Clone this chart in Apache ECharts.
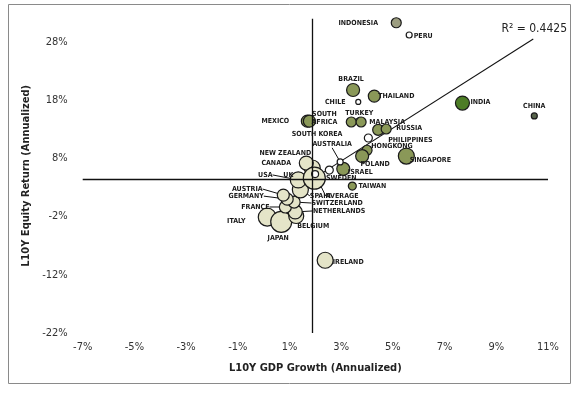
<!DOCTYPE html>
<html>
<head>
<meta charset="utf-8">
<script src="https://cdn.jsdelivr.net/npm/echarts@6/dist/echarts.min.js"></script>
<style>html,body{margin:0;padding:0;background:#fff}#c{width:580px;height:395px}</style>
</head>
<body>
<div id="c"></div>
<script>
// ---- data ----
const countries = ["INDONESIA","PERU","BRAZIL","THAILAND","CHILE","INDIA","CHINA","MEXICO","SOUTH AFRICA","TURKEY","SOUTH KOREA","MALAYSIA","RUSSIA","PHILIPPINES","HONGKONG","POLAND","SINGAPORE","ISRAEL","AUSTRALIA","SWEDEN","TAIWAN","IRELAND","ITALY","JAPAN","BELGIUM","NETHERLANDS","FRANCE","SWITZERLAND","GERMANY","AUSTRIA","SPAIN","USA","CANADA","NEW ZEALAND","UK","AVERAGE"];
const gdpGrowth   = [5.13,5.63,3.46,4.28,3.66,7.69,10.47,1.69,1.77,3.39,3.77,4.43,4.74,4.05,4.00,3.81,5.52,3.08,2.96,2.54,3.43,2.38,0.14,0.68,1.26,1.22,0.84,1.18,0.91,0.76,1.42,1.34,1.88,1.65,1.96,1.99];
const equityReturn= [31.3,29.2,19.75,18.7,17.7,17.5,15.3,14.4,14.4,14.25,14.25,12.9,13.05,11.5,9.4,8.4,8.4,6.2,7.4,6.0,3.25,-9.5,-2.1,-2.9,-1.9,-1.2,-0.35,0.5,1.0,1.7,2.6,4.3,6.35,7.2,4.6,5.3];
const marketSize  = [10,6,13,12,5,14,6,12,12,10,10,11,10,8,10,13,16,13,6,8,8,16,18,21,15,14,12,12,12,12,16,16,16,14,22,7];
const groups      = ["grey","white","em","em","white","dark","china","em","em","em","em","em","em","white","em","em","em","em","white","white","em","dev","dev","dev","dev","dev","dev","dev","dev","dev","dev","dev","dev","dev","dev","white"];
const avgGdp = 1.88, avgReturn = 4.4;
const trendGdp = [1.88, 10.43];
const trendReturn = [4.4, 28.5];
const rSquared = "0.4425";
const xTicks = [-7,-5,-3,-1,1,3,5,7,9,11];
const yTicks = [-22,-12,-2,8,18,28];
const yTop = 32;

// ---- styles / layout ----
const groupColor = {dev:"#e4e4c8", em:"#8a9858", dark:"#4d7d26", china:"#56634a", grey:"#9c9d80", white:"#ffffff"};
const labelOffset = {
  "INDONESIA":[-38,0],"PERU":[14,1],"BRAZIL":[-2,-11],"THAILAND":[22,0],"CHILE":[-23,0],"INDIA":[18,-1],"CHINA":[0,-10],
  "MEXICO":[-32,0],"SOUTH AFRICA":[15,-3],"TURKEY":[8,-9],"SOUTH KOREA":[-44,12],"MALAYSIA":[9,-8],"RUSSIA":[23,-1],
  "PHILIPPINES":[42,2],"HONGKONG":[25,-4],"POLAND":[13,8],"SINGAPORE":[24,4],"ISRAEL":[17,3],"AUSTRALIA":[-8,-18],
  "SWEDEN":[12,8],"TAIWAN":[20,0],"IRELAND":[23,2],"ITALY":[-31,4],"JAPAN":[-3,16],"BELGIUM":[17,10],"NETHERLANDS":[44,-1],
  "FRANCE":[-30,0],"SWITZERLAND":[43,1],"GERMANY":[-41,-3],"AUSTRIA":[-36,-6],"SPAIN":[20,6],"USA":[-33,-5],
  "CANADA":[-36,-5],"NEW ZEALAND":[-21,-10],"UK":[-26,-3],"AVERAGE":[27,22]
};
const withLeader = {"TURKEY":1,"HONGKONG":1,"AUSTRALIA":1,"UK":1,"SPAIN":1,"AUSTRIA":1,"GERMANY":1,"SWITZERLAND":1,"FRANCE":1,"NETHERLANDS":1,"AVERAGE":1,"USA":1};
const FONT = "'DejaVu Sans Condensed','Liberation Sans Narrow',sans-serif";

const scatterData = countries.map((n,i)=>({
  name:n,
  value:[gdpGrowth[i], equityReturn[i], marketSize[i]],
  itemStyle:{color:groupColor[groups[i]]},
  labelLine:{show: !!withLeader[n], lineStyle:{color:'#111', width:1}}
}));

const chart = echarts.init(document.getElementById('c'), null, {renderer:'canvas'});
chart.setOption({
  animation:false,
  backgroundColor:'#fff',
  textStyle:{fontFamily:FONT},
  grid:{left:82.7, right:32, top:18.7, bottom:62, containLabel:false},
  xAxis:{
    type:'value', min:xTicks[0], max:xTicks[xTicks.length-1], interval:xTicks[1]-xTicks[0],
    axisLine:{show:false}, axisTick:{show:false}, splitLine:{show:false},
    axisLabel:{formatter:'{value}%', fontSize:11, color:'#333', margin:9, fontFamily:FONT},
    name:'L10Y GDP Growth (Annualized)', nameLocation:'middle', nameGap:30,
    nameTextStyle:{fontSize:11, fontWeight:'bold', color:'#222', fontFamily:FONT}
  },
  yAxis:{
    type:'value', min:yTicks[0], max:yTop, interval:yTicks[1]-yTicks[0],
    axisLine:{show:false}, axisTick:{show:false}, splitLine:{show:false},
    axisLabel:{formatter:v=> (yTicks.indexOf(v)>=0 ? v+'%' : ''), fontSize:11, color:'#333', margin:15, fontFamily:FONT},
    name:'L10Y Equity Return (Annualized)', nameLocation:'middle', nameGap:46,
    nameTextStyle:{fontSize:11, fontWeight:'bold', color:'#222', fontFamily:FONT}
  },
  graphic:[
    {type:'rect', shape:{x:8.5,y:4.5,width:562,height:379}, style:{fill:null, stroke:'#8a8a8a', lineWidth:1}, z:-1},
    {type:'text', right:13, top:23, style:{text:'R\u00B2 = '+rSquared, font:"12px "+FONT, fill:'#222'}}
  ],
  series:[
    {
      type:'line', silent:true, showSymbol:false, symbol:'none',
      data: trendGdp.map((x,i)=>[x, trendReturn[i]]),
      lineStyle:{color:'#111', width:1.1}, z:1,
      markLine:{silent:true, symbol:'none', label:{show:false},
        lineStyle:{color:'#111', width:1.3, type:'solid'},
        data:[{xAxis:avgGdp},{yAxis:avgReturn}]}
    },
    {
      type:'scatter', z:3,
      data: scatterData,
      symbolSize: v=>v[2],
      itemStyle:{borderColor:'#1a1a1a', borderWidth:1.2, opacity:1},
      label:{show:true, position:'inside', color:'#1a1a1a', fontSize:7, fontWeight:'bold', fontFamily:FONT,
        formatter:p=> p.name==='SOUTH AFRICA' ? 'SOUTH\nAFRICA' : p.name, lineHeight:8},
      labelLayout: p=>{ const o = labelOffset[countries[p.dataIndex]] || [0,0]; return {dx:o[0], dy:o[1]}; },
      emphasis:{disabled:true}
    }
  ]
});
</script>
</body>
</html>
